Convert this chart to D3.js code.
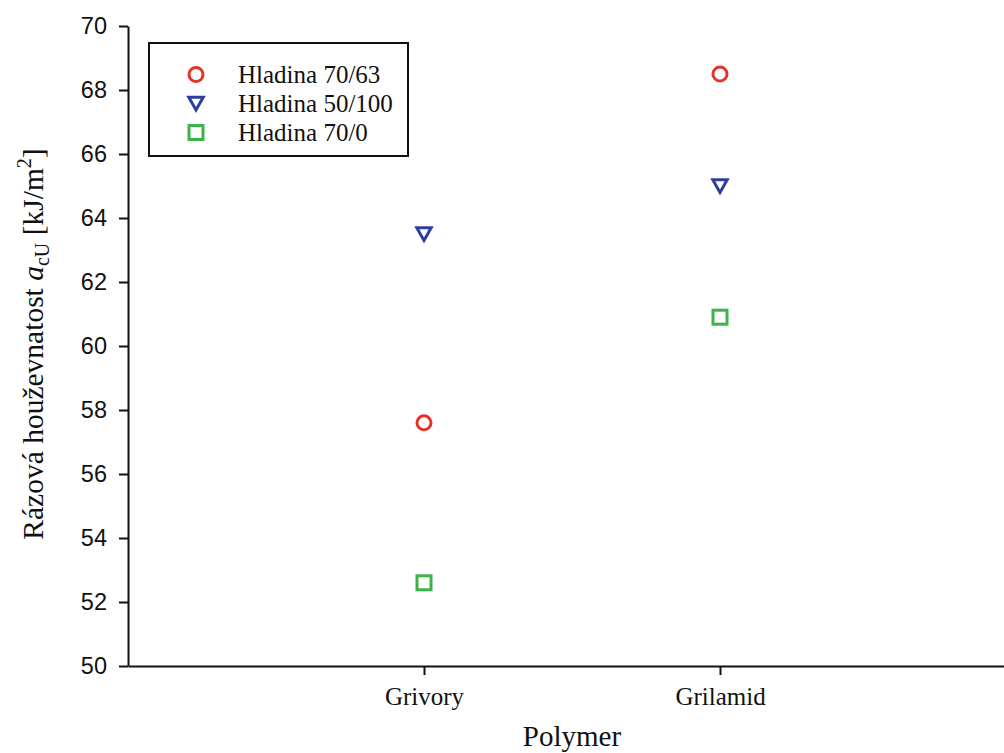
<!DOCTYPE html>
<html>
<head>
<meta charset="utf-8">
<script src="https://cdn.jsdelivr.net/npm/d3@7"></script>
<style>
  html, body { margin: 0; padding: 0; background: #fff; }
  svg { display: block; }
</style>
</head>
<body>
<svg id="chart" width="1004" height="753"></svg>
<script>
// Impact toughness by polymer and processing level
const polymers = ["Grivory", "Grilamid"];
const seriesNames = ["Hladina 70/63", "Hladina 50/100", "Hladina 70/0"];
const level7063 = [57.6, 68.5];
const level50100 = [63.5, 65.0];
const level700 = [52.6, 60.9];
const yTicks = [50, 52, 54, 56, 58, 60, 62, 64, 66, 68, 70];

const series = [
  { name: seriesNames[0], values: level7063, shape: "circle", color: "#e5332a" },
  { name: seriesNames[1], values: level50100, shape: "triangle", color: "#2d3f9a" },
  { name: seriesNames[2], values: level700, shape: "square", color: "#3db449" }
];

const svg = d3.select("#chart");
const plotLeft = 128, plotTop = 26, plotBottom = 666, plotRight = 1016;

const x = d3.scaleLinear().domain([0, polymers.length + 1]).range([plotLeft, plotRight]);
const y = d3.scaleLinear().domain([50, 70]).range([plotBottom, plotTop]);

// Axes
const yAxis = d3.axisLeft(y).tickValues(yTicks).tickSize(9).tickSizeOuter(0).tickPadding(12);
const gy = svg.append("g").attr("transform", `translate(${plotLeft},0)`).call(yAxis);
gy.selectAll("text").attr("font-family", "Liberation Sans, Arial, sans-serif").attr("font-size", 23.5).attr("fill", "#111");

const xAxis = d3.axisBottom(x).tickValues(polymers.map((d, i) => i + 1))
  .tickFormat((d) => polymers[d - 1]).tickSize(9).tickSizeOuter(0).tickPadding(12);
const gx = svg.append("g").attr("transform", `translate(0,${plotBottom})`).call(xAxis);
gx.selectAll("text").attr("font-family", "Liberation Serif, Times New Roman, serif").attr("font-size", 25).attr("fill", "#111");

svg.selectAll(".domain, .tick line").attr("stroke", "#111").attr("stroke-width", 2);

// Marker shapes
function drawMarker(g, shape, color) {
  const sw = 3;
  if (shape === "circle") {
    g.append("circle").attr("r", 7).attr("fill", "none").attr("stroke", color).attr("stroke-width", sw);
  } else if (shape === "triangle") {
    g.append("path").attr("d", "M-7.2,-6.2 L7.2,-6.2 L0,6.4 Z").attr("fill", "none")
      .attr("stroke", color).attr("stroke-width", sw).attr("stroke-linejoin", "miter");
  } else {
    g.append("rect").attr("x", -7).attr("y", -7).attr("width", 14).attr("height", 14)
      .attr("fill", "none").attr("stroke", color).attr("stroke-width", sw);
  }
}

// Data points
series.forEach((s) => {
  s.values.forEach((v, i) => {
    const g = svg.append("g").attr("transform", `translate(${x(i + 1)},${y(v)})`);
    drawMarker(g, s.shape, s.color);
  });
});

// Legend
const legend = svg.append("g");
legend.append("rect").attr("x", 149).attr("y", 43).attr("width", 259).attr("height", 113)
  .attr("fill", "#fff").attr("stroke", "#111").attr("stroke-width", 2);
series.forEach((s, i) => {
  const cy = 74.5 + i * 29;
  const g = legend.append("g").attr("transform", `translate(196,${cy})`);
  drawMarker(g, s.shape, s.color);
  legend.append("text").attr("x", 238).attr("y", cy + 8.5)
    .attr("font-family", "Liberation Serif, Times New Roman, serif").attr("font-size", 25)
    .attr("fill", "#111").text(s.name);
});

// Axis titles
svg.append("text").attr("x", 572).attr("y", 746).attr("text-anchor", "middle")
  .attr("font-family", "Liberation Serif, Times New Roman, serif").attr("font-size", 29)
  .attr("fill", "#111").text("Polymer");

const yl = svg.append("text").attr("transform", "translate(43,344) rotate(-90)")
  .attr("text-anchor", "middle")
  .attr("font-family", "Liberation Serif, Times New Roman, serif").attr("font-size", 29.5)
  .attr("fill", "#111");
yl.append("tspan").text("Rázová houževnatost ");
yl.append("tspan").attr("font-style", "italic").text("a");
yl.append("tspan").attr("font-size", 20).attr("dy", 6).text("cU");
yl.append("tspan").attr("dy", -6).text(" [kJ/m");
yl.append("tspan").attr("font-size", 20).attr("dy", -12).text("2");
yl.append("tspan").attr("dy", 12).text("]");
</script>
</body>
</html>
